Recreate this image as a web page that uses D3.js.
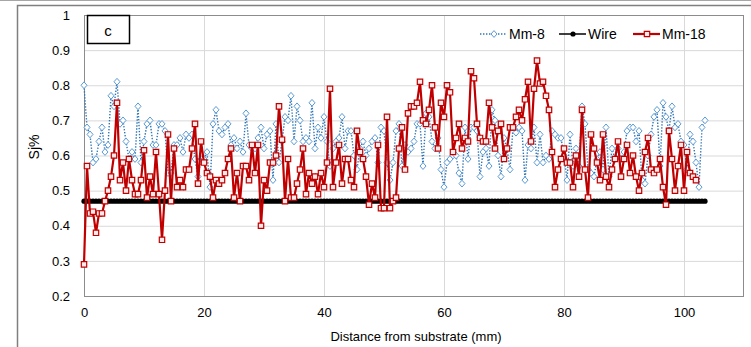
<!DOCTYPE html>
<html>
<head>
<meta charset="utf-8">
<script src="https://cdn.jsdelivr.net/npm/d3@7"></script>
<style>
  html, body { margin: 0; padding: 0; background: #fff; }
  svg { display: block; font-family: "Liberation Sans", Arial, sans-serif; }
</style>
</head>
<body>
<svg id="chart" width="751" height="347"></svg>
<script>
// readings are taken every 0.5 mm from the substrate
const X_STEP = 0.5;

const mm8 = [
  0.80,0.68,0.66,0.58,0.59,0.64,0.68,0.61,0.63,0.77, 0.74,0.81,0.69,0.70,0.64,0.59,0.61,0.59,0.74,0.58,
  0.64,0.69,0.70,0.63,0.63,0.69,0.69,0.67,0.55,0.55, 0.63,0.63,0.65,0.61,0.66,0.65,0.66,0.59,0.54,0.59,
  0.59,0.61,0.51,0.69,0.73,0.67,0.66,0.68,0.69,0.63, 0.65,0.62,0.64,0.61,0.72,0.63,0.62,0.62,0.65,0.68,
  0.62,0.66,0.67,0.53,0.69,0.58,0.64,0.71,0.70,0.77, 0.64,0.74,0.70,0.64,0.65,0.64,0.75,0.62,0.68,0.65,
  0.71,0.64,0.57,0.62,0.64,0.65,0.71,0.62,0.67,0.67, 0.60,0.56,0.62,0.64,0.60,0.62,0.64,0.65,0.58,0.68,
  0.67,0.58,0.53,0.58,0.67,0.69,0.57,0.63,0.61,0.62, 0.64,0.69,0.69,0.57,0.72,0.71,0.64,0.62,0.65,0.56,
  0.51,0.58,0.59,0.60,0.60,0.55,0.52,0.68,0.59,0.68, 0.68,0.67,0.54,0.61,0.62,0.57,0.73,0.70,0.60,0.54,
  0.65,0.62,0.56,0.68,0.665,0.68,0.67,0.53,0.63,0.62, 0.68,0.58,0.66,0.58,0.60,0.59,0.67,0.66,0.65,0.65,
  0.60,0.53,0.66,0.57,0.62,0.57,0.74,0.69,0.56,0.55, 0.54,0.59,0.61,0.56,0.68,0.54,0.62,0.59,0.62,0.59,
  0.61,0.67,0.68,0.68,0.64,0.67,0.53,0.52,0.60,0.66, 0.71,0.73,0.57,0.75,0.71,0.67,0.74,0.68,0.69,0.64,
  0.63,0.56,0.66,0.64,0.58,0.51,0.68,0.70
];

const mm18 = [
  0.29,0.57,0.435,0.44,0.38,0.435,0.435,0.47,0.50,0.54, 0.60,0.75,0.53,0.58,0.50,0.59,0.53,0.49,0.49,0.53,
  0.615,0.48,0.54,0.49,0.61,0.49,0.36,0.50,0.66,0.47, 0.62,0.51,0.53,0.51,0.56,0.56,0.62,0.69,0.52,0.64,
  0.58,0.55,0.54,0.48,0.53,0.52,0.53,0.55,0.59,0.62, 0.48,0.55,0.47,0.57,0.57,0.53,0.63,0.55,0.63,0.40,
  0.53,0.50,0.58,0.58,0.60,0.74,0.645,0.47,0.59,0.48, 0.48,0.52,0.56,0.62,0.49,0.55,0.52,0.54,0.49,0.55,
  0.51,0.58,0.79,0.51,0.58,0.63,0.52,0.59,0.59,0.53, 0.51,0.67,0.61,0.59,0.54,0.46,0.52,0.48,0.63,0.45,
  0.45,0.71,0.45,0.47,0.48,0.62,0.68,0.56,0.72,0.74, 0.74,0.75,0.81,0.70,0.69,0.73,0.80,0.68,0.62,0.75,
  0.71,0.80,0.78,0.61,0.65,0.69,0.62,0.65,0.64,0.84, 0.82,0.69,0.65,0.64,0.64,0.75,0.68,0.62,0.67,0.69,
  0.59,0.62,0.68,0.68,0.71,0.73,0.70,0.76,0.81,0.64, 0.79,0.87,0.805,0.81,0.77,0.73,0.61,0.51,0.56,0.59,
  0.62,0.58,0.58,0.51,0.60,0.54,0.73,0.56,0.48,0.66, 0.62,0.58,0.53,0.66,0.54,0.51,0.56,0.59,0.64,0.54,
  0.59,0.63,0.55,0.60,0.54,0.50,0.55,0.61,0.65,0.56, 0.55,0.56,0.59,0.51,0.46,0.67,0.59,0.50,0.57,0.63,
  0.50,0.61,0.55,0.54,0.53
];

const wire = [
  0.47,0.47,0.47,0.47,0.47,0.47,0.47,0.47,0.47,0.47, 0.47,0.47,0.47,0.47,0.47,0.47,0.47,0.47,0.47,0.47,
  0.47,0.47,0.47,0.47,0.47,0.47,0.47,0.47,0.47,0.47, 0.47,0.47,0.47,0.47,0.47,0.47,0.47,0.47,0.47,0.47,
  0.47,0.47,0.47,0.47,0.47,0.47,0.47,0.47,0.47,0.47, 0.47,0.47,0.47,0.47,0.47,0.47,0.47,0.47,0.47,0.47,
  0.47,0.47,0.47,0.47,0.47,0.47,0.47,0.47,0.47,0.47, 0.47,0.47,0.47,0.47,0.47,0.47,0.47,0.47,0.47,0.47,
  0.47,0.47,0.47,0.47,0.47,0.47,0.47,0.47,0.47,0.47, 0.47,0.47,0.47,0.47,0.47,0.47,0.47,0.47,0.47,0.47,
  0.47,0.47,0.47,0.47,0.47,0.47,0.47,0.47,0.47,0.47, 0.47,0.47,0.47,0.47,0.47,0.47,0.47,0.47,0.47,0.47,
  0.47,0.47,0.47,0.47,0.47,0.47,0.47,0.47,0.47,0.47, 0.47,0.47,0.47,0.47,0.47,0.47,0.47,0.47,0.47,0.47,
  0.47,0.47,0.47,0.47,0.47,0.47,0.47,0.47,0.47,0.47, 0.47,0.47,0.47,0.47,0.47,0.47,0.47,0.47,0.47,0.47,
  0.47,0.47,0.47,0.47,0.47,0.47,0.47,0.47,0.47,0.47, 0.47,0.47,0.47,0.47,0.47,0.47,0.47,0.47,0.47,0.47,
  0.47,0.47,0.47,0.47,0.47,0.47,0.47,0.47,0.47,0.47, 0.47,0.47,0.47,0.47,0.47,0.47,0.47,0.47,0.47,0.47,
  0.47,0.47,0.47,0.47,0.47,0.47,0.47,0.47
];

const xTicks = [0, 20, 40, 60, 80, 100];
const yTicks = [0.2, 0.3, 0.4, 0.5, 0.6, 0.7, 0.8, 0.9, 1];
const yTickLabels = ['0.2', '0.3', '0.4', '0.5', '0.6', '0.7', '0.8', '0.9', '1'];
const seriesNames = ['Mm-8', 'Wire', 'Mm-18'];

// layout
const W = 751, H = 347;
const plot = { left: 84, right: 744, top: 15, bottom: 296 };

const svg = d3.select('#chart');

const x = d3.scaleLinear().domain([0, 110]).range([plot.left, plot.right]);
const y = d3.scaleLinear().domain([0.2, 1]).range([plot.bottom, plot.top]);

// outer chart frame (cropped in the figure)
svg.append('line')
  .attr('x1', 0).attr('x2', W).attr('y1', 0.5).attr('y2', 0.5)
  .attr('stroke', '#a6a6a6').attr('stroke-width', 1);
svg.append('path')
  .attr('d', `M17.5,${H} V5.5 H${W}`)
  .attr('fill', 'none')
  .attr('stroke', '#7f7f7f')
  .attr('stroke-width', 1.5);

// gridlines
const grid = svg.append('g').attr('class', 'grid');
grid.append('g')
  .attr('transform', `translate(${plot.left},0)`)
  .call(d3.axisLeft(y).tickValues(yTicks).tickSize(-(plot.right - plot.left)).tickFormat(''))
  .call(g => g.select('.domain').remove())
  .call(g => g.selectAll('line').attr('stroke', '#d9d9d9'));
grid.append('g')
  .attr('transform', `translate(0,${plot.bottom})`)
  .call(d3.axisBottom(x).tickValues(xTicks.slice(1)).tickSize(-(plot.bottom - plot.top)).tickFormat(''))
  .call(g => g.select('.domain').remove())
  .call(g => g.selectAll('line').attr('stroke', '#d9d9d9'));

// plot area border
svg.append('rect')
  .attr('x', plot.left + 0.5).attr('y', plot.top + 0.5)
  .attr('width', plot.right - plot.left - 1).attr('height', plot.bottom - plot.top)
  .attr('fill', 'none')
  .attr('stroke', '#8c8c8c')
  .attr('stroke-width', 1);

// tick labels
svg.append('g')
  .attr('transform', `translate(${plot.left},0)`)
  .call(d3.axisLeft(y).tickValues(yTicks).tickSize(0).tickPadding(14)
    .tickFormat((d, i) => yTickLabels[i]))
  .call(g => g.select('.domain').remove())
  .call(g => g.selectAll('text')
    .attr('font-size', 13).attr('fill', '#000')
    .attr('font-family', '"Liberation Sans", Arial, sans-serif'));

svg.append('g')
  .attr('transform', `translate(0,${plot.bottom})`)
  .call(d3.axisBottom(x).tickValues(xTicks).tickSize(0).tickPadding(12))
  .call(g => g.select('.domain').remove())
  .call(g => g.selectAll('text')
    .attr('font-size', 13).attr('fill', '#000')
    .attr('font-family', '"Liberation Sans", Arial, sans-serif'));

// axis titles
svg.append('text')
  .attr('x', (plot.left + plot.right) / 2 + 2).attr('y', 341)
  .attr('text-anchor', 'middle')
  .attr('font-size', 13)
  .text('Distance from substrate (mm)');

svg.append('text')
  .attr('transform', 'translate(39,147) rotate(-90)')
  .attr('text-anchor', 'middle')
  .attr('font-size', 14)
  .text('Sj%');

// panel letter
svg.append('rect')
  .attr('x', 87.5).attr('y', 15.5).attr('width', 42).attr('height', 28)
  .attr('fill', '#fff').attr('stroke', '#000').attr('stroke-width', 1.5);
svg.append('text')
  .attr('x', 108).attr('y', 36)
  .attr('text-anchor', 'middle')
  .attr('font-size', 15)
  .text('c');

// series
const pts = arr => arr.map((v, i) => [i * X_STEP, v]);
const line = d3.line().x(d => x(d[0])).y(d => y(d[1]));

const diamond = 'M0,-3.4L3,0L0,3.4L-3,0Z';
const square = 'M-2.7,-2.7H2.7V2.7H-2.7Z';

const styles = {
  'Mm-8':  { data: mm8,  stroke: '#2e75b6', width: 1.4, dash: '1.4,1.6', marker: diamond, mStroke: '#5b9bd5', mFill: '#fff', mWidth: 1 },
  'Wire':  { data: wire, stroke: '#000',    width: 1.5, dash: null,      marker: 'circle', mStroke: '#000', mFill: '#000', mWidth: 1 },
  'Mm-18': { data: mm18, stroke: '#c00000', width: 2.2, dash: null,      marker: square,  mStroke: '#c00000', mFill: '#fde9e9', mWidth: 1.2 }
};

seriesNames.forEach(name => {
  const s = styles[name];
  const g = svg.append('g').attr('class', 'series');
  g.append('path')
    .datum(pts(s.data))
    .attr('d', line)
    .attr('fill', 'none')
    .attr('stroke', s.stroke)
    .attr('stroke-width', s.width)
    .attr('stroke-dasharray', s.dash);

  if (s.marker === 'circle') {
    g.selectAll('circle')
      .data(pts(s.data))
      .enter().append('circle')
      .attr('cx', d => x(d[0]))
      .attr('cy', d => y(d[1]))
      .attr('r', 2.6)
      .attr('fill', s.mFill);
  } else {
    g.selectAll('path.m')
      .data(pts(s.data))
      .enter().append('path')
      .attr('class', 'm')
      .attr('d', s.marker)
      .attr('transform', d => `translate(${x(d[0])},${y(d[1])})`)
      .attr('fill', s.mFill)
      .attr('stroke', s.mStroke)
      .attr('stroke-width', s.mWidth);
  }
});

// legend
const legendX = [480, 559, 633];
const legend = svg.append('g').attr('class', 'legend');
seriesNames.forEach((name, i) => {
  const s = styles[name];
  const g = legend.append('g').attr('transform', `translate(${legendX[i]},34)`);
  g.append('line')
    .attr('x1', 0).attr('x2', 27)
    .attr('stroke', s.stroke)
    .attr('stroke-width', s.width)
    .attr('stroke-dasharray', s.dash);
  if (s.marker === 'circle') {
    g.append('circle').attr('cx', 14).attr('r', 2.6).attr('fill', s.mFill);
  } else {
    g.append('path')
      .attr('d', s.marker)
      .attr('transform', 'translate(14,0)')
      .attr('fill', s.mFill)
      .attr('stroke', s.mStroke)
      .attr('stroke-width', s.mWidth);
  }
  g.append('text')
    .attr('x', 29).attr('y', 5)
    .attr('font-size', 14)
    .text(name);
});
</script>
</body>
</html>
